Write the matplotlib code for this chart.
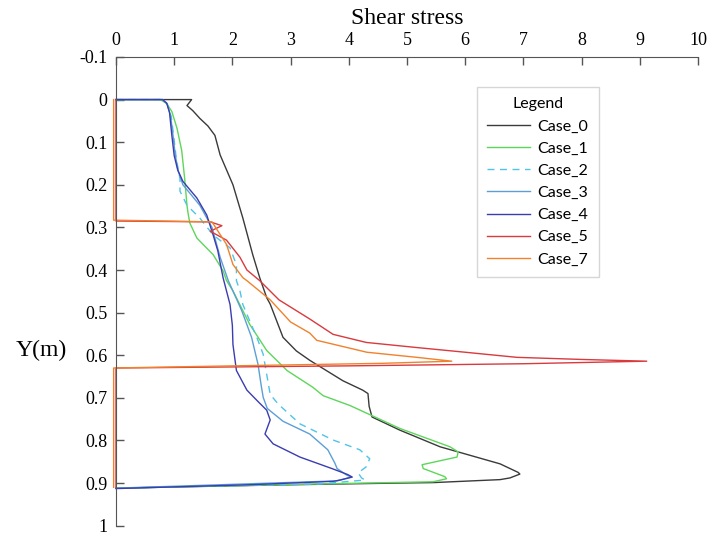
import matplotlib
matplotlib.use("Agg")
import matplotlib.pyplot as plt

# shear stress (x) against depth Y (m) for each case
case0_x = [0, 1.30, 1.22, 1.32, 1.44, 1.58, 1.70, 1.79, 2.01, 2.18, 2.35, 2.47, 2.59, 2.65, 2.87,
           3.10, 3.33, 3.90, 4.24, 4.33, 4.35, 4.40, 4.88, 5.57, 5.88, 6.60, 6.91, 6.94, 6.77,
           6.60, 5.45, 4.88, 2.59, 0]
case0_y = [0, 0, 0.014, 0.026, 0.044, 0.062, 0.084, 0.13, 0.20, 0.278, 0.364, 0.418, 0.465, 0.48,
           0.558, 0.59, 0.612, 0.66, 0.682, 0.69, 0.72, 0.745, 0.776, 0.815, 0.827, 0.855, 0.875,
           0.879, 0.888, 0.892, 0.899, 0.90, 0.905, 0.912]

case1_x = [0, 0.76, 0.87, 0.96, 1.05, 1.13, 1.18, 1.22, 1.24, 1.27, 1.39, 1.67, 1.84, 1.90, 2.01,
           2.30, 2.59, 2.94, 3.38, 3.56, 4.02, 4.88, 5.74, 5.88, 5.86, 5.26, 5.28, 5.65, 5.68,
           5.45, 3.16, 0]
case1_y = [0, 0, 0.009, 0.028, 0.068, 0.12, 0.185, 0.248, 0.268, 0.29, 0.325, 0.364, 0.402, 0.425,
           0.449, 0.528, 0.589, 0.636, 0.675, 0.695, 0.718, 0.772, 0.815, 0.827, 0.839, 0.857,
           0.866, 0.885, 0.89, 0.897, 0.903, 0.912]

case2_x = [0, 0.78, 0.88, 0.95, 0.99, 1.03, 1.07, 1.10, 1.10, 1.22, 1.44, 1.67, 1.96, 2.07, 2.07,
           2.13, 2.18, 2.30, 2.42, 2.53, 2.59, 2.65, 2.79, 3.16, 3.73, 4.19, 4.36, 4.30, 4.16,
           4.22, 4.28, 3.50, 0]
case2_y = [0, 0, 0.01, 0.04, 0.084, 0.131, 0.165, 0.185, 0.215, 0.248, 0.278, 0.318, 0.348, 0.388,
           0.425, 0.449, 0.481, 0.52, 0.558, 0.598, 0.645, 0.692, 0.715, 0.761, 0.799, 0.822,
           0.843, 0.862, 0.876, 0.888, 0.893, 0.902, 0.912]

case3_x = [0, 0.80, 0.88, 0.94, 0.98, 1.02, 1.07, 1.15, 1.44, 1.65, 1.79, 1.93, 2.16, 2.33, 2.44,
           2.50, 2.53, 2.60, 2.87, 3.33, 3.64, 3.76, 3.80, 3.96, 4.04, 3.80, 0]
case3_y = [0, 0, 0.01, 0.04, 0.084, 0.131, 0.168, 0.20, 0.248, 0.30, 0.37, 0.425, 0.495, 0.558,
           0.621, 0.675, 0.699, 0.725, 0.755, 0.785, 0.822, 0.853, 0.866, 0.881, 0.886, 0.895,
           0.912]

case4_x = [0, 0.80, 0.87, 0.92, 0.96, 1.00, 1.06, 1.15, 1.39, 1.56, 1.67, 1.75, 1.84, 1.96, 2.00,
           2.01, 2.07, 2.25, 2.45, 2.59, 2.65, 2.56, 2.70, 3.16, 3.73, 3.98, 4.06, 3.85, 3.73,
           2.30, 0]
case4_y = [0, 0, 0.008, 0.03, 0.084, 0.131, 0.165, 0.192, 0.231, 0.271, 0.318, 0.355, 0.418, 0.481,
           0.53, 0.575, 0.636, 0.682, 0.71, 0.729, 0.752, 0.785, 0.808, 0.839, 0.867, 0.88, 0.886,
           0.893, 0.896, 0.904, 0.913]

case5_x = [0, 0, 1.62, 1.82, 1.62, 1.90, 2.13, 2.25, 2.47, 2.80, 3.33, 3.73, 4.30, 5.17, 6.00,
           6.89, 8.02, 9.12, 7.00, 4.00, 0, 0]
case5_y = [0, 0.285, 0.287, 0.296, 0.309, 0.33, 0.37, 0.40, 0.425, 0.47, 0.515, 0.551, 0.57, 0.582,
           0.593, 0.605, 0.61, 0.614, 0.62, 0.625, 0.63, 0.91]

case7_x = [-0.04, -0.04, 1.65, 1.90, 2.01, 2.18, 2.25, 2.65, 3.00, 3.33, 3.45, 4.31, 5.17, 5.77,
           4.59, 2.00, -0.04, -0.04]
case7_y = [0, 0.283, 0.287, 0.34, 0.387, 0.418, 0.425, 0.47, 0.522, 0.548, 0.565, 0.593, 0.605,
           0.614, 0.619, 0.625, 0.63, 0.91]

cases = [
    ("Case_0", case0_x, case0_y, "#3a3a3a", "-"),
    ("Case_1", case1_x, case1_y, "#5ed65a", "-"),
    ("Case_2", case2_x, case2_y, "#4fc4e8", (0, (5, 4))),
    ("Case_3", case3_x, case3_y, "#5c9fd6", "-"),
    ("Case_4", case4_x, case4_y, "#3a3db0", "-"),
    ("Case_5", case5_x, case5_y, "#d83a3e", "-"),
    ("Case_7", case7_x, case7_y, "#f0822e", "-"),
]

serif = "Liberation Serif"

fig = plt.figure(figsize=(7.08, 5.35), dpi=100)
ax = fig.add_axes([0.1638, 0.0175, 0.822, 0.876])

for name, xs, ys, color, ls in cases:
    ax.plot(xs, ys, color=color, linestyle=ls, linewidth=1.0, label=name, clip_on=False)

ax.set_xlim(0, 10)
ax.set_ylim(1, -0.1)
ax.set_xticks(range(0, 11))
ax.set_yticks([-0.1, 0, 0.1, 0.2, 0.3, 0.4, 0.5, 0.6, 0.7, 0.8, 0.9, 1])
ax.set_yticklabels(["-0.1", "0", "0.1", "0.2", "0.3", "0.4", "0.5", "0.6", "0.7", "0.8", "0.9", "1"])

ax.xaxis.tick_top()
ax.xaxis.set_label_position("top")
ax.tick_params(axis="both", direction="in", length=6, width=1, color="#555555",
               labelsize=13, pad=6)
for lbl in ax.get_xticklabels() + ax.get_yticklabels():
    lbl.set_family(serif)

ax.spines["right"].set_visible(False)
ax.spines["bottom"].set_visible(False)
ax.spines["top"].set_color("#555555")
ax.spines["left"].set_color("#555555")

ax.set_xlabel("Shear stress", fontsize=17, family=serif)
ax.xaxis.set_label_coords(0.5, 1.07)
ax.set_ylabel("Y(m)", fontsize=17, family=serif, rotation=0, va="center", ha="center")
ax.yaxis.set_label_coords(-0.128, 0.373)

leg = ax.legend(title="Legend", loc="upper left", bbox_to_anchor=(0.62, 0.936),
                prop={"family": "Lato", "size": 11.5},
                title_fontproperties={"family": "Lato", "size": 11.5},
                fancybox=False, edgecolor="#cccccc", handlelength=2.7, handletextpad=0.45,
                labelspacing=0.5, borderpad=0.65, borderaxespad=0)
leg.get_frame().set_linewidth(1.0)

fig.savefig("out.png", dpi=100)
